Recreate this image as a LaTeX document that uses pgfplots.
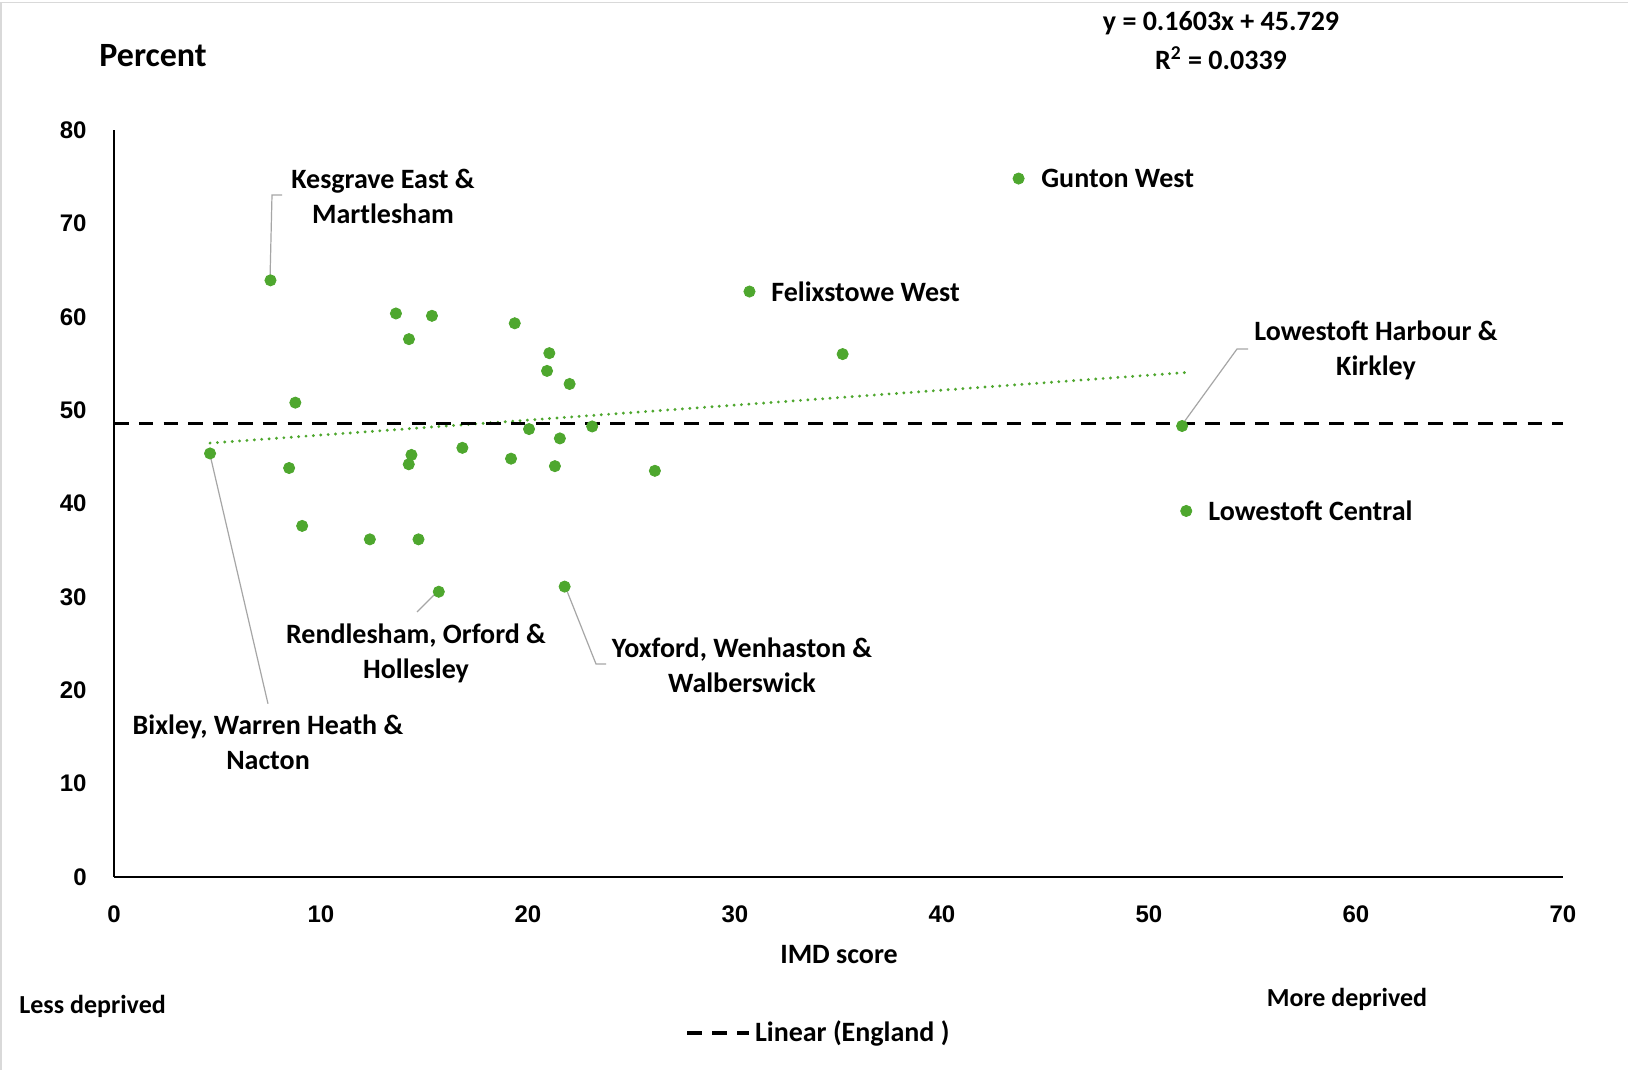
\documentclass[border=0pt]{standalone}
\usepackage{pgfplots}
\pgfplotsset{compat=1.18}
\usepackage{fontspec}
\setmainfont{Carlito}
\newfontfamily\tickfont{Liberation Sans}
\definecolor{ptgreen}{RGB}{78,167,46}
\definecolor{leadgray}{RGB}{166,166,166}
\newcommand\lab{\bfseries\fontsize{14}{17.5}\selectfont}
\newcommand\labs{\bfseries\fontsize{13}{16}\selectfont}
\begin{document}
\begin{tikzpicture}
\useasboundingbox (0,0) rectangle (814pt,535pt);
\fill[white] (0,0) rectangle (814pt,535pt);
\draw[black!15, line width=0.8pt] (0.6pt,0) -- (0.6pt,533.8pt) -- (814pt,533.8pt);
\begin{scope}[x=0.5pt, y=-0.5pt, shift={(0pt,535pt)}]
\draw[leadgray, line width=0.6pt] (270,280) -- (272,195) -- (282,195);
\draw[leadgray, line width=0.6pt] (1183,423.5) -- (1237,349) -- (1248,349);
\draw[leadgray, line width=0.6pt] (435,594) -- (417,612);
\draw[leadgray, line width=0.6pt] (566,588.5) -- (596,664) -- (606,664);
\draw[leadgray, line width=0.6pt] (210,454.6) -- (268,703.8);
\node[anchor=west, inner sep=0pt, font=\bfseries\fontsize{17}{20}\selectfont] at (99,56) {Percent};
\node[font=\lab] at (1221,23) {y = 0.1603x + 45.729};
\node[font=\lab] at (1221,58) {R\textsuperscript{2} = 0.0339};
\node[font=\lab] at (839,955) {IMD score};
\node[anchor=west, inner sep=0pt, font=\labs] at (19,1006) {Less deprived};
\node[font=\labs] at (1347,999) {More deprived};
\node[font=\lab, align=center] at (383,196) {Kesgrave East \&\\Martlesham};
\node[anchor=west, inner sep=0pt, font=\lab] at (1041,178.5) {Gunton West};
\node[anchor=west, inner sep=0pt, font=\lab] at (771,291.7) {Felixstowe West};
\node[font=\lab,align=center] at (1376,350) {Lowestoft Harbour \&\\Kirkley};
\node[anchor=west, inner sep=0pt, font=\lab] at (1208,510.7) {Lowestoft Central};
\node[font=\lab,align=center] at (416,653.5) {Rendlesham, Orford \&\\Hollesley};
\node[font=\lab,align=center] at (742,665.5) {Yoxford, Wenhaston \&\\Walberswick};
\node[font=\lab,align=center] at (268,742) {Bixley, Warren Heath \&\\Nacton};
\end{scope}
\begin{axis}[
  at={(57pt,96.5pt)}, anchor=south west,
  scale only axis, width=724.5pt, height=373.5pt,
  xmin=0, xmax=70, ymin=0, ymax=80,
  axis x line*=bottom, axis y line*=left,
  axis line style={line width=1pt, black},
  xtick={0,10,...,70}, ytick={0,10,...,80},
  major tick length=0pt,
  /pgf/number format/assume math mode=true,
  ticklabel style={font=\tickfont\bfseries\fontsize{12}{14}\selectfont, inner sep=0pt},
  yticklabel style={xshift=-13.5pt},
  xticklabel style={yshift=-14pt},
  clip=false,
  legend style={draw=none, fill=none, at={(0.487,-0.2088)}, anchor=center,
    font=\bfseries\fontsize{14}{16}\selectfont, legend cell align=left},
  legend image code/.code={\draw[#1] (0pt,0pt) -- (31pt,0pt);},
]
\addplot[ptgreen, line width=1.6pt, dash pattern=on 0pt off 3.7pt, line cap=round, forget plot]
  coordinates {(4.64,46.47) (51.8,54.03)};
\addplot[black, line width=1.6pt, dash pattern=on 7.3pt off 5.1pt]
  coordinates {(0,48.6) (70,48.6)};
\addlegendentry{Linear (England )}
\addplot[only marks, mark=*, mark size=2.8pt, mark options={draw=ptgreen, fill=ptgreen}, forget plot]
  table {
x y
7.56 63.9
43.7 74.8
30.7 62.7
35.2 56.0
51.6 48.3
51.8 39.2
4.64 45.36
13.62 60.35
15.36 60.1
14.25 57.6
19.36 59.3
21.03 56.1
20.92 54.2
22.01 52.8
8.76 50.8
20.05 47.97
21.54 46.97
23.1 48.25
8.46 43.8
14.37 45.2
14.24 44.2
16.83 45.96
19.18 44.8
21.3 44.0
26.13 43.5
9.09 37.6
12.36 36.16
14.71 36.16
15.69 30.55
21.77 31.1
};
\end{axis}
\end{tikzpicture}
\end{document}
